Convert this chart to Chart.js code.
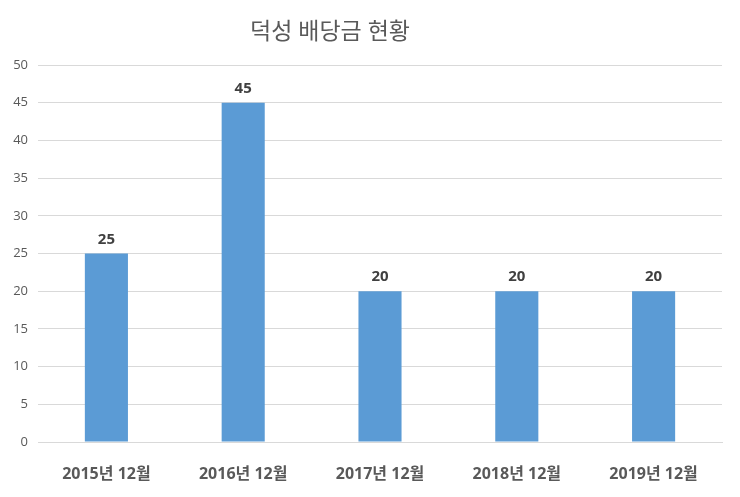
<!DOCTYPE html>
<html>
<head>
<meta charset="utf-8">
<script src="https://cdn.jsdelivr.net/npm/chart.js@4"></script>
<style>
  html, body { margin: 0; padding: 0; background: #fff; }
  #wrap { width: 740px; height: 497px; position: relative; }
</style>
</head>
<body>
<div id="wrap"><canvas id="dividendChart"></canvas></div>
<script>
const chartTitle = "덕성 배당금 현황";
const periods = ["2015년 12월", "2016년 12월", "2017년 12월", "2018년 12월", "2019년 12월"];
const dividends = [25, 45, 20, 20, 20];
const yTicks = [0, 5, 10, 15, 20, 25, 30, 35, 40, 45, 50];

const FONT = "'Open Sans', 'Noto Sans CJK KR', sans-serif";

// title and value labels drawn on the canvas
const textPlugin = {
  id: "textPlugin",
  afterDatasetsDraw(chart) {
    const c = chart.ctx;
    c.save();
    c.fillStyle = "#595959";
    c.font = "23px " + FONT;
    c.textAlign = "center";
    c.textBaseline = "middle";
    c.fillText(chartTitle, 330, 32);

    c.fillStyle = "#404040";
    c.font = "bold 15px " + FONT;
    chart.getDatasetMeta(0).data.forEach((bar, i) => {
      c.fillText(String(dividends[i]), bar.x, bar.y - 14);
    });
    c.restore();
  },
};

const ctx = document.getElementById("dividendChart").getContext("2d");
const dividendChart = new Chart(ctx, {
  type: "bar",
  data: {
    labels: periods,
    datasets: [
      {
        data: dividends,
        backgroundColor: "#5B9BD5",
        categoryPercentage: 1,
        barPercentage: 0.315,
      },
    ],
  },
  options: {
    responsive: true,
    maintainAspectRatio: false,
    animation: false,
    layout: { padding: { top: 65, right: 18, left: 0, bottom: 0 } },
    plugins: {
      legend: { display: false },
      tooltip: { enabled: false },
    },
    scales: {
      x: {
        grid: { display: false },
        border: { color: "#d9d9d9" },
        ticks: {
          color: "#595959",
          font: { family: FONT, size: 16, weight: "bold" },
          padding: 15,
        },
        afterFit(scale) { scale.height = 55; },
      },
      y: {
        min: 0,
        max: 50,
        afterBuildTicks(scale) { scale.ticks = yTicks.map(v => ({ value: v })); },
        grid: { color: "#d9d9d9", drawTicks: false },
        border: { display: false },
        ticks: {
          color: "#595959",
          font: { family: FONT, size: 13 },
          padding: 10,
        },
        afterFit(scale) { scale.width = 38; },
      },
    },
  },
  plugins: [textPlugin],
});
</script>
</body>
</html>
